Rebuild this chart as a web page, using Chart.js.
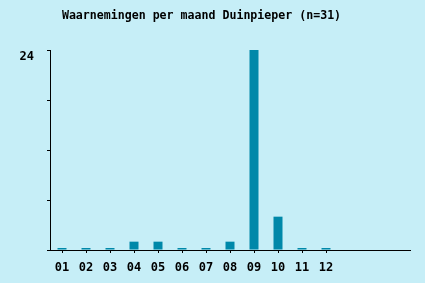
<!DOCTYPE html>
<html><head><meta charset="utf-8">
<script src="https://cdn.jsdelivr.net/npm/chart.js@4"></script>
<style>html,body{margin:0;padding:0;background:#c6eef7;}#wrap{width:425px;height:283px;}</style>
</head><body><div id="wrap"><canvas id="c" width="425" height="283"></canvas></div>
<script>
const titleText = 'Waarnemingen per maand Duinpieper (n=31)';
const months = ['01','02','03','04','05','06','07','08','09','10','11','12','','',''];
const counts = [0,0,0,1,1,0,0,1,24,4,0,0,null,null,null];
const yTicksShown = [24];
const FONT = '"DejaVu Sans Mono", "Liberation Mono", monospace';

const bgPlugin = {
  id: 'bg',
  beforeDraw(chart) {
    const ctx = chart.ctx;
    ctx.save();
    ctx.fillStyle = '#c6eef7';
    ctx.fillRect(0, 0, chart.width, chart.height);
    ctx.restore();
  },
  afterDraw(chart) {
    const ctx = chart.ctx;
    ctx.save();
    ctx.font = 'bold 11.6px ' + FONT;
    ctx.fillStyle = '#000';
    ctx.textAlign = 'center';
    ctx.textBaseline = 'middle';
    ctx.fillText(titleText, 201.5, 16);
    ctx.restore();
  }
};

new Chart(document.getElementById('c'), {
  type: 'bar',
  data: {
    labels: months,
    datasets: [{
      data: counts,
      backgroundColor: '#0088a9',
      borderWidth: 0,
      barPercentage: 0.375,
      categoryPercentage: 1,
      minBarLength: 2
    }]
  },
  options: {
    responsive: false,
    animation: false,
    layout: { padding: { top: 50, right: 15, left: 0, bottom: 0 } },
    plugins: { legend: { display: false }, title: { display: false }, tooltip: { enabled: false } },
    scales: {
      x: {
        offset: true,
        afterFit: s => { s.height = 33; },
        border: { color: '#000', width: 1 },
        grid: {
          offset: false,
          drawOnChartArea: false,
          tickLength: 3,
          color: ctx => (months[ctx.index] ? '#000' : 'rgba(0,0,0,0)')
        },
        ticks: {
          color: '#000',
          padding: 8,
          maxRotation: 0,
          autoSkip: false,
          font: { family: FONT, size: 12, weight: 'bold' }
        }
      },
      y: {
        min: 0,
        max: 24,
        afterFit: s => { s.width = 50; },
        border: { color: '#000', width: 1 },
        grid: { drawOnChartArea: false, tickLength: 3, color: '#000' },
        ticks: {
          stepSize: 6,
          color: '#000',
          padding: 13,
          labelOffset: 7,
          font: { family: FONT, size: 12, weight: 'bold' },
          callback: v => (yTicksShown.includes(v) ? String(v) : '')
        }
      }
    }
  },
  plugins: [bgPlugin]
});
</script></body></html>
